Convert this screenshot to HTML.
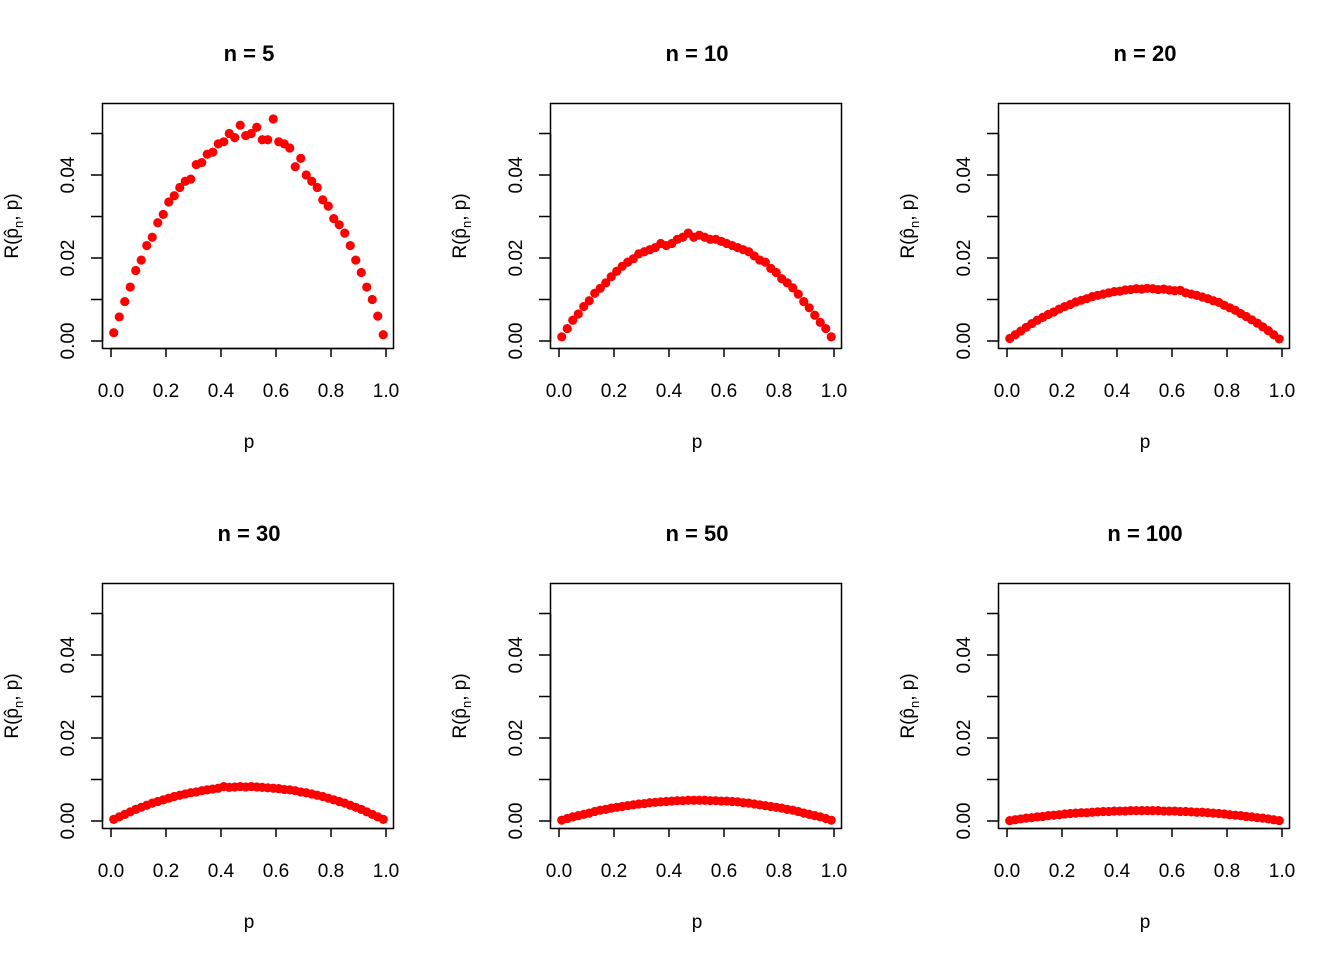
<!DOCTYPE html>
<html><head><meta charset="utf-8"><style>
body{margin:0;background:#fff;}
svg{display:block;font-family:"Liberation Sans",Arial,sans-serif;}
</style></head><body>
<svg id="chart" width="1344" height="960" viewBox="0 0 1344 960" xmlns="http://www.w3.org/2000/svg"></svg>
<script>
const panelNs = [5, 10, 20, 30, 50, 100];
const pValues = [0.01,0.03,0.05,0.07,0.09,0.11,0.13,0.15,0.17,0.19,0.21,0.23,0.25,0.27,0.29,0.31,0.33,0.35,0.37,0.39,0.41,0.43,0.45,0.47,0.49,0.51,0.53,0.55,0.57,0.59,0.61,0.63,0.65,0.67,0.69,0.71,0.73,0.75,0.77,0.79,0.81,0.83,0.85,0.87,0.89,0.91,0.93,0.95,0.97,0.99];
// risk values in units of 0.001
const risk5 = [2.0,5.8,9.5,13,17,19.5,23,25,28.5,30.5,33.5,35,37,38.5,39,42.5,43,45,45.5,47.5,48,50,49,52,49.5,50,51.5,48.5,48.5,53.5,48,47.5,46.5,42,44,40,38.5,37,34,32.5,29.5,28,26,23,19.5,16.5,13,10,6,1.5];
const risk10 = [1,3,5,6.5,8.3,9.7,11.5,12.7,14,15.5,16.8,18,19,19.8,21,21.5,22,22.5,23.5,23,23.5,24.5,25,26,25,25.5,25,24.5,24.5,24,23.5,23,22.5,22,21.5,20.5,19.5,19,17.5,16.5,15,14,12.8,11.3,9.5,8,6.2,4.5,3,1];
const risk20 = [0.6,1.5,2.4,3.3,4.2,5,5.7,6.4,7,7.7,8.3,8.8,9.4,9.8,10.2,10.7,11,11.3,11.6,11.9,12,12.3,12.4,12.6,12.5,12.7,12.6,12.4,12.5,12.3,12.1,12.2,11.6,11.3,11.0,10.6,10.2,9.7,9.3,8.6,8,7.4,6.6,5.9,5.1,4.3,3.4,2.5,1.5,0.5];
const risk30 = [0.4,1,1.6,2.2,2.8,3.3,3.8,4.3,4.7,5.1,5.5,5.9,6.2,6.5,6.8,7,7.3,7.5,7.7,7.9,8.3,8.1,8.2,8.3,8.2,8.3,8.2,8.1,8,7.9,7.8,7.6,7.5,7.3,7.0,6.8,6.5,6.2,5.9,5.5,5.1,4.7,4.3,3.8,3.3,2.8,2.2,1.6,1,0.4];
const risk50 = [0.2,0.6,1,1.3,1.6,1.9,2.3,2.6,2.8,3.1,3.3,3.5,3.7,3.9,4.1,4.2,4.4,4.5,4.6,4.7,4.8,4.9,4.9,5,5,5,5,4.9,4.9,4.8,4.8,4.7,4.6,4.4,4.3,4.1,3.9,3.7,3.5,3.3,3.1,2.8,2.6,2.3,1.9,1.6,1.3,1,0.6,0.2];
const risk100 = [0.1,0.3,0.5,0.7,0.8,1,1.1,1.3,1.4,1.5,1.7,1.8,1.9,2,2,2.1,2.2,2.3,2.3,2.4,2.4,2.4,2.5,2.5,2.5,2.5,2.5,2.5,2.4,2.4,2.4,2.3,2.3,2.2,2.1,2.1,2,1.9,1.8,1.7,1.5,1.4,1.3,1.1,1,0.8,0.7,0.5,0.3,0.1];
const riskSeries = [risk5, risk10, risk20, risk30, risk50, risk100];
const xTickLabels = ["0.0","0.2","0.4","0.6","0.8","1.0"];
const xTicks = [0,0.2,0.4,0.6,0.8,1.0];
const yTicks = [0,0.01,0.02,0.03,0.04,0.05];
const yTickLabels = ["0.00","","0.02","","0.04",""];

const NS = "http://www.w3.org/2000/svg";
const svg = document.getElementById('chart');
function mk(tag, attrs, parent){ const e=document.createElementNS(NS,tag); for(const k in attrs) e.setAttribute(k,attrs[k]); (parent||svg).appendChild(e); return e; }

panelNs.forEach((n, i) => {
  const col = i % 3, row = Math.floor(i / 3);
  const ox = col * 448, oy = row * 480;
  const g = mk('g', {});
  
  
  const xS = v => ox + 111 + v * 275;
  const yS = v => oy + 341 - v * 4150;
  // title
  const t = mk('text', {x: ox + 249, y: oy + 61, 'text-anchor':'middle', 'font-size':'22', 'font-weight':'bold'}, g);
  t.textContent = 'n =  ' + n;
  
  
  // points
  const pts = mk('g', {fill:'#ff0000'}, g);
  
  
  riskSeries[i].forEach((r, j) => {
    const c = mk('circle', {cx: xS(pValues[j]), cy: yS(r / 1000), r: 4.6}, pts);
    
    
  });
  // box
  const box = mk('rect', {x: ox + 102.5, y: oy + 103.5, width: 291, height: 245, fill:'none', stroke:'#000', 'stroke-width':1.5}, g);
  
  
  // x axis
  const xa = mk('g', {stroke:'#000', 'stroke-width':1.5}, g);
  
  
  mk('line', {x1: xS(0), x2: xS(1), y1: oy + 348.5, y2: oy + 348.5}, xa);
  xTicks.forEach((v, k) => {
    mk('line', {x1: xS(v), x2: xS(v), y1: oy + 348.5, y2: oy + 357}, xa);
    const lt = mk('text', {x: xS(v), y: oy + 397, 'text-anchor':'middle', 'font-size':'19', stroke:'none', fill:'#000'}, g);
    lt.textContent = xTickLabels[k];
    
    
  });
  const xl = mk('text', {x: ox + 249, y: oy + 448, 'text-anchor':'middle', 'font-size':'19'}, g);
  xl.textContent = 'p';
  
  
  // y axis
  const ya = mk('g', {stroke:'#000', 'stroke-width':1.5}, g);
  
  
  mk('line', {x1: ox + 102.5, x2: ox + 102.5, y1: yS(0), y2: yS(0.05)}, ya);
  yTicks.forEach((v, k) => {
    mk('line', {x1: ox + 91, x2: ox + 102.5, y1: yS(v), y2: yS(v)}, ya);
    if (yTickLabels[k]) {
      const lt = mk('text', {x: 0, y: 0, 'text-anchor':'middle', 'font-size':'19', transform:`translate(${ox + 74},${yS(v)}) rotate(-90)`}, g);
      lt.textContent = yTickLabels[k];
      
      
    }
  });
  const yl = mk('text', {x: 0, y: 0, 'text-anchor':'middle', 'font-size':'19', transform:`translate(${ox + 18},${oy + 226}) rotate(-90)`}, g);
  
  
  const a = mk('tspan', {}, yl); a.textContent = 'R(p\u0302';
  const b = mk('tspan', {'font-size':'13', dy: 5}, yl); b.textContent = 'n';
  const c2 = mk('tspan', {dy: -5}, yl); c2.textContent = ', p)';
});
</script>
</body></html>
